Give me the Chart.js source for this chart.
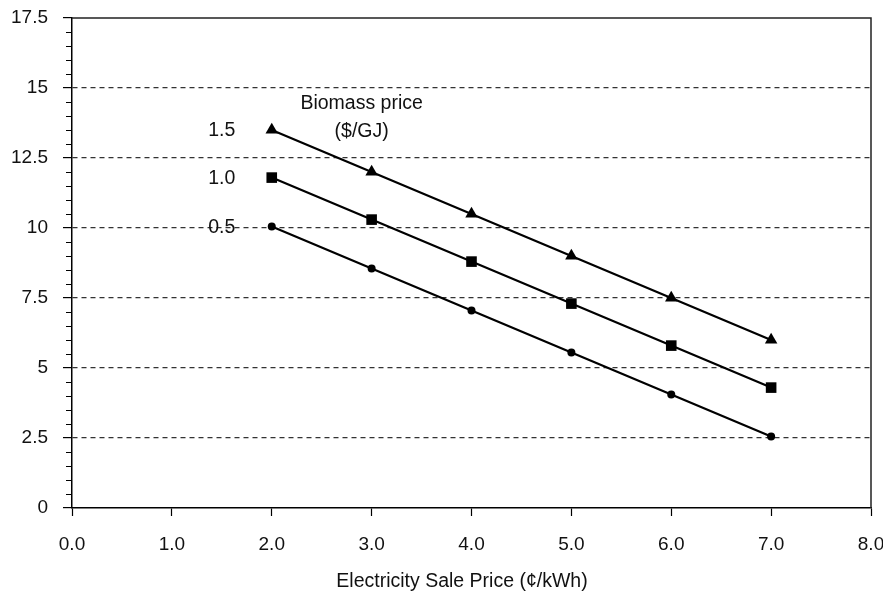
<!DOCTYPE html>
<html>
<head>
<meta charset="utf-8">
<script src="https://cdn.jsdelivr.net/npm/chart.js@4.4.1/dist/chart.umd.min.js"></script>
<style>
  html, body { margin: 0; padding: 0; background: #fff; }
  #wrap { width: 883px; height: 593px; }
</style>
</head>
<body>
<div id="wrap"><canvas id="sale_price"></canvas></div>
<script>
// data
const salePrice = [2.0, 3.0, 4.0, 5.0, 6.0, 7.0];
const bio15 = [13.5, 12.0, 10.5, 9.0, 7.5, 6.0];
const bio10 = [11.8, 10.3, 8.8, 7.3, 5.8, 4.3];
const bio05 = [10.05, 8.55, 7.05, 5.55, 4.05, 2.55];
const seriesNames = ['1.5', '1.0', '0.5'];
const xTitle = 'Electricity Sale Price (\u00a2/kWh)';
const legendTitle = ['Biomass price', '($/GJ)'];

const FONT = '"Liberation Sans", Arial, Helvetica, sans-serif';
const INK = '#111';

function pts(ys) {
  return salePrice.map((x, i) => ({x: x, y: ys[i]}));
}

const lineStyle = {borderColor: '#000', backgroundColor: '#000', borderWidth: 2.2, pointBorderWidth: 0, tension: 0};

const data = {
  datasets: [
    Object.assign({label: seriesNames[0], data: pts(bio15), pointStyle: 'triangle', pointRadius: 7.2}, lineStyle),
    Object.assign({label: seriesNames[1], data: pts(bio10), pointStyle: 'rect', pointRadius: 7.5}, lineStyle),
    Object.assign({label: seriesNames[2], data: pts(bio05), pointStyle: 'circle', pointRadius: 4}, lineStyle)
  ]
};

//------------------------------------------

// frame, minor ticks and text labels
const extras = {
  id: 'extras',
  afterDraw(chart) {
    const {ctx, chartArea: {top, right, bottom, left}} = chart;
    const xs = chart.scales.x, ys = chart.scales.y;
    ctx.save();

    // top and right frame
    ctx.strokeStyle = '#222';
    ctx.lineWidth = 1.5;
    ctx.beginPath();
    ctx.moveTo(left, top);
    ctx.lineTo(right, top);
    ctx.lineTo(right, bottom);
    ctx.stroke();

    // minor ticks on y
    ctx.strokeStyle = '#000';
    ctx.lineWidth = 1;
    for (let v = 0.5; v < 17.5; v += 0.5) {
      if (Math.abs(v / 2.5 - Math.round(v / 2.5)) < 1e-6) continue;
      const py = Math.round(ys.getPixelForValue(v)) + 0.5;
      ctx.beginPath();
      ctx.moveTo(left - 6, py);
      ctx.lineTo(left, py);
      ctx.stroke();
    }

    ctx.fillStyle = INK;
    ctx.font = '19.5px ' + FONT;
    ctx.textBaseline = 'middle';
    ctx.textAlign = 'center';

    // series labels next to first point
    chart.data.datasets.forEach((ds, i) => {
      const p = chart.getDatasetMeta(i).data[0];
      ctx.fillText(ds.label, p.x - 50, p.y + 1);
    });

    // legend heading
    const lx = xs.getPixelForValue(2.9);
    ctx.fillText(legendTitle[0], lx, ys.getPixelForValue(14.43));
    ctx.fillText(legendTitle[1], lx, ys.getPixelForValue(13.43));

    // x axis title
    ctx.fillText(xTitle, xs.getPixelForValue(3.905), 582);
    ctx.restore();
  }
};

//------------------------------------------

const config = {
  type: 'line',
  data: data,
  options: {
    responsive: false,
    animation: false,
    layout: {padding: {top: 18, right: 12, bottom: 0, left: 0}},
    plugins: {legend: {display: false}, tooltip: {enabled: false}},
    scales: {
      x: {
        type: 'linear',
        min: 0, max: 8,
        afterFit(s) { s.height = 85; s.paddingLeft = 0; s.paddingRight = 0; },
        ticks: {stepSize: 1, color: INK, font: {family: FONT, size: 19}, padding: 17, maxRotation: 0,
                callback: v => v.toFixed(1)},
        grid: {drawOnChartArea: false, tickLength: 8, tickColor: '#000', tickWidth: 1.2},
        border: {color: '#000', width: 1.5}
      },
      y: {
        min: 0, max: 17.5,
        afterFit(s) { s.width = 72; s.paddingTop = 0; s.paddingBottom = 0; },
        ticks: {stepSize: 2.5, color: INK, font: {family: FONT, size: 19}, padding: 15},
        grid: {
          color: c => (c.tick.value > 0 && c.tick.value < 17.5) ? '#333' : 'rgba(0,0,0,0)',
          lineWidth: 1.2,
          tickLength: 9, tickColor: '#000', tickWidth: 1.2
        },
        border: {color: '#000', width: 1.5, dash: [5, 4]}
      }
    }
  },
  plugins: [extras]
};

const canvas = document.getElementById('sale_price');
canvas.width = 883;
canvas.height = 593;
const salePriceChart = new Chart(canvas, config);
</script>
</body>
</html>
